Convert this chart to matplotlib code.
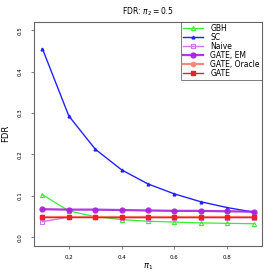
import matplotlib.pyplot as plt

# pi_1 values
pi1 = [0.1, 0.2, 0.3, 0.4, 0.5, 0.6, 0.7, 0.8, 0.9]

# FDR per method
gbh = [0.103, 0.064, 0.050, 0.043, 0.039, 0.037, 0.035, 0.034, 0.033]
sc = [0.455, 0.293, 0.213, 0.163, 0.129, 0.105, 0.086, 0.072, 0.061]
naive = [0.038, 0.049, 0.049, 0.048, 0.048, 0.048, 0.048, 0.048, 0.048]
gate_em = [0.068, 0.067, 0.067, 0.066, 0.065, 0.064, 0.064, 0.063, 0.062]
gate_oracle = [0.049, 0.049, 0.049, 0.049, 0.049, 0.049, 0.049, 0.049, 0.049]
gate = [0.050, 0.050, 0.050, 0.050, 0.050, 0.050, 0.050, 0.050, 0.050]

xticks = [0.2, 0.4, 0.6, 0.8]
yticks = [0.0, 0.1, 0.2, 0.3, 0.4, 0.5]

fig = plt.figure(figsize=(2.73, 2.73), dpi=100)
ax = fig.add_axes([0.1245, 0.1, 0.835, 0.82])

ax.plot(pi1, gbh, color='#33ee33', marker='^', mfc='none', ms=3, mew=0.8, lw=0.9, label='GBH')
ax.plot(pi1, sc, color='#2222ff', marker='^', ms=2, lw=1.0, label='SC')
ax.plot(pi1, naive, color='#cc77ee', marker='s', mfc='none', ms=3, mew=0.8, lw=1.0, label='Naive')
ax.plot(pi1, gate_em, color='#aa22dd', marker='o', ms=3.5, lw=1.6, alpha=0.9, label='GATE, EM')
ax.plot(pi1, gate_oracle, color='#ff8877', marker='o', ms=3, lw=1.6, label='GATE, Oracle')
ax.plot(pi1, gate, color='#ee2222', marker='s', ms=3, lw=1.0, label='GATE')

ax.set_xlim(0.068, 0.932)
ax.set_ylim(-0.02, 0.52)
ax.set_xticks(xticks)
ax.set_xticklabels([f'{v:.1f}' for v in xticks])
ax.set_yticks(yticks)
ax.set_yticklabels([f'{v:.1f}' for v in yticks], rotation=90, va='center')
ax.tick_params(labelsize=4, length=2.5, width=0.5, color='#555555')
ax.tick_params(axis='x', pad=4)
ax.tick_params(axis='y', pad=6)
for s in ax.spines.values():
    s.set_color('#666666')
    s.set_linewidth(0.8)

ax.set_xlabel(r'$\pi_1$', fontsize=6, labelpad=1)
ax.set_ylabel('FDR', fontsize=6, labelpad=5)
ax.set_title(r'FDR: $\pi_2 = 0.5$', fontsize=5.5, pad=5)

leg = ax.legend(loc='upper right', fontsize=5.5, frameon=True, fancybox=False,
                edgecolor='#444444', borderaxespad=0, handlelength=2.6,
                labelspacing=0.0, borderpad=0.3, handletextpad=0.9)
leg.get_frame().set_linewidth(0.6)

plt.savefig('out.png', dpi=100)
